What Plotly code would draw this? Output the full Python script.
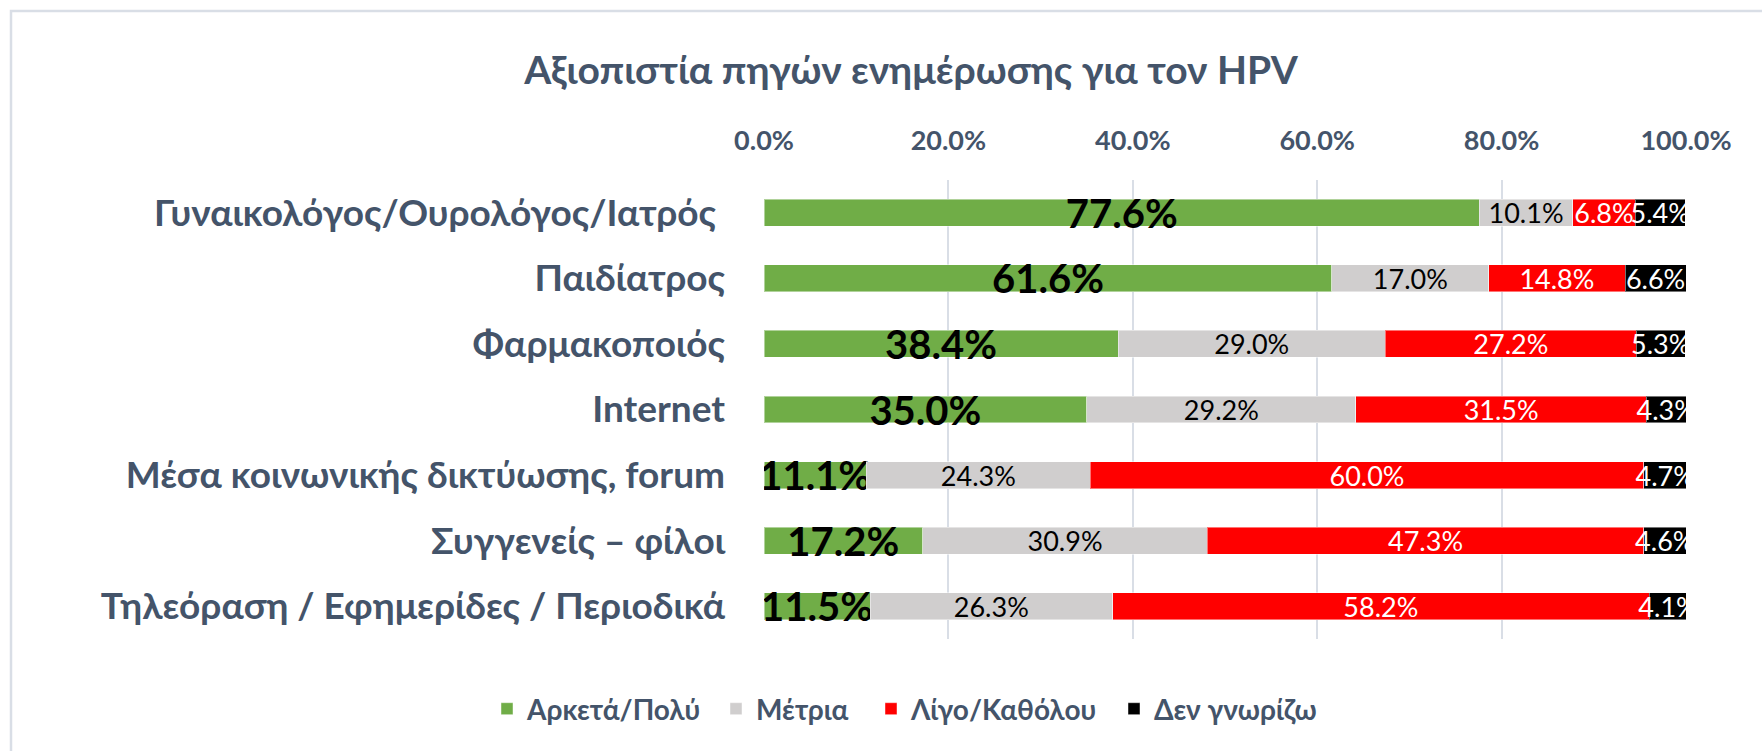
import plotly.graph_objects as go

categories = [
    "Γυναικολόγος/Ουρολόγος/Ιατρός ",
    "Παιδίατρος",
    "Φαρμακοποιός",
    "Internet",
    "Μέσα κοινωνικής δικτύωσης, forum",
    "Συγγενείς – φίλοι",
    "Τηλεόραση / Εφημερίδες / Περιοδικά",
]
series_names = ["Αρκετά/Πολύ", "Μέτρια", "Λίγο/Καθόλου", "Δεν γνωρίζω"]
arketa_poly = [77.6, 61.6, 38.4, 35.0, 11.1, 17.2, 11.5]
metria = [10.1, 17.0, 29.0, 29.2, 24.3, 30.9, 26.3]
ligo_katholou = [6.8, 14.8, 27.2, 31.5, 60.0, 47.3, 58.2]
den_gnorizo = [5.4, 6.6, 5.3, 4.3, 4.7, 4.6, 4.1]
tick_values = [0, 20, 40, 60, 80, 100]
tick_labels = ["0.0%", "20.0%", "40.0%", "60.0%", "80.0%", "100.0%"]

FONT = "Lato, sans-serif"
TXT = "#44546a"

# legend item left edges (px) measured from reference
legend_px = [499, 728, 883, 1126]

series = [
    (series_names[0], arketa_poly, "#70ad47", "#000000", 40, True),
    (series_names[1], metria, "#d0cece", "#000000", 27, False),
    (series_names[2], ligo_katholou, "#ff0000", "#ffffff", 27, False),
    (series_names[3], den_gnorizo, "#000000", "#ffffff", 27, False),
]

L, R, T, B = 764, 76, 180, 112
W, H = 1762, 751
PW, PH = W - L - R, H - T - B

fig = go.Figure()
legend_layouts = {}
for i, (name, vals, color, tcolor, tsize, bold) in enumerate(series):
    lname = "legend" if i == 0 else f"legend{i + 1}"
    fig.add_trace(go.Bar(
        name=name,
        y=categories,
        x=vals,
        orientation="h",
        marker=dict(color=color, line=dict(color="rgba(255,255,255,0.45)", width=1)),
        text=[(f"<b>{v:.1f}%</b>" if bold else f"{v:.1f}%") for v in vals],
        textposition="inside",
        insidetextanchor="middle",
        textangle=0,
        constraintext="none",
        textfont=dict(family=FONT, size=tsize, color=tcolor),
        cliponaxis=True,
        hoverinfo="skip",
        legend=lname,
    ))
    legend_layouts[lname] = dict(
        orientation="h",
        x=(legend_px[i] - 12 - L) / PW, xanchor="left",
        y=(PH + T - 709) / PH, yanchor="middle",
        font=dict(family=FONT, size=28, color=TXT, weight="bold"),
        itemwidth=30,
        bgcolor="rgba(0,0,0,0)",
        borderwidth=0,
    )

fig.update_layout(
    width=W,
    height=H,
    barmode="stack",
    bargap=0.59,
    paper_bgcolor="white",
    plot_bgcolor="white",
    margin=dict(l=L, r=R, t=T, b=B),
    title=dict(
        text="<b>Αξιοπιστία πηγών ενημέρωσης για τον HPV</b>",
        x=911 / W, xref="container", xanchor="center",
        y=1 - 70 / H, yref="container", yanchor="middle",
        font=dict(family=FONT, size=39, color=TXT),
    ),
    xaxis=dict(
        side="top",
        range=[0, 100],
        tickvals=tick_values,
        ticktext=tick_labels,
        showgrid=True,
        gridcolor="#d9dee6",
        gridwidth=1.5,
        zeroline=False,
        showline=False,
        ticks="",
        ticklabelstandoff=24,
        tickfont=dict(family=FONT, size=27, color=TXT, weight="bold"),
        fixedrange=True,
    ),
    yaxis=dict(
        autorange="reversed",
        showgrid=False,
        zeroline=False,
        showline=False,
        ticks="",
        ticklabelstandoff=38,
        tickfont=dict(family=FONT, size=37, color=TXT, weight="bold"),
        fixedrange=True,
    ),
    showlegend=True,
    shapes=[dict(
        type="rect", xref="paper", yref="paper",
        x0=(11 - L) / PW, x1=(1800 - L) / PW,
        y0=(PH + T - 800) / PH, y1=(PH + T - 11) / PH,
        line=dict(color="#d9dee6", width=2.5),
        fillcolor="rgba(0,0,0,0)",
        layer="below",
    )],
    **legend_layouts,
)

fig.write_html("out.html")
